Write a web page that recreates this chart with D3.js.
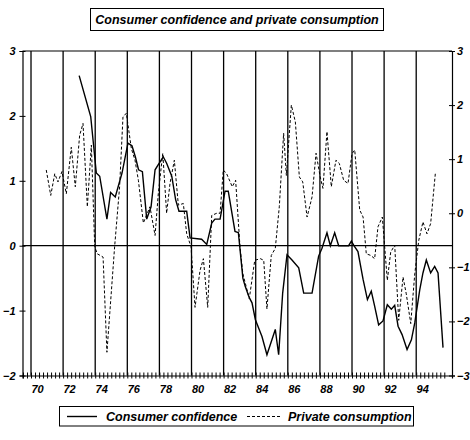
<!DOCTYPE html>
<html>
<head>
<meta charset="utf-8">
<script src="https://cdn.jsdelivr.net/npm/d3@7"></script>
<style>
  body { margin: 0; background: #fff; }
  text { font-family: "Liberation Sans", Arial, sans-serif; font-weight: bold; font-style: italic; fill: #000; }
</style>
</head>
<body>
<script>
// consumer confidence (left axis), dates in decimal years
var ccYears = [1973.0, 1973.72, 1974.07, 1974.28, 1974.73, 1974.96, 1975.25, 1975.67, 1976.04, 1976.29,
  1976.5, 1976.7, 1976.94, 1977.21, 1977.48, 1977.73, 1977.93, 1978.24, 1978.45, 1978.77,
  1979.01, 1979.22, 1979.7, 1979.91, 1980.63, 1980.95, 1981.26, 1981.46, 1981.78, 1982.09,
  1982.29, 1982.71, 1982.92, 1983.2, 1983.35, 1983.6, 1983.77, 1983.98, 1984.39, 1984.7,
  1985.22, 1985.43, 1985.68, 1985.95, 1986.26, 1986.68, 1986.99, 1987.51, 1987.92, 1988.13,
  1988.44, 1988.65, 1988.92, 1989.17, 1989.79, 1989.96, 1990.12, 1990.37, 1990.69, 1990.96,
  1991.2, 1991.41, 1991.66, 1991.93, 1992.2, 1992.45, 1992.66, 1992.87, 1993.12, 1993.43,
  1993.7, 1993.91, 1994.22, 1994.42, 1994.63, 1994.9, 1995.15, 1995.36, 1995.67];
var ccValues = [2.62, 1.99, 1.12, 1.07, 0.41, 0.82, 0.75, 1.12, 1.58, 1.54,
  1.37, 1.17, 1.14, 0.41, 0.60, 1.17, 1.25, 1.37, 1.27, 1.07,
  0.71, 0.53, 0.53, 0.12, 0.10, 0.02, 0.35, 0.41, 0.41, 0.84,
  0.84, 0.22, 0.20, -0.5, -0.63, -0.80, -0.88, -1.14, -1.40, -1.68,
  -1.29, -1.68, -0.73, -0.14, -0.22, -0.34, -0.73, -0.73, -0.16, -0.04,
  0.20, 0.0, 0.20, 0.0, 0.0, 0.07, 0.0, -0.09, -0.52, -0.83,
  -0.70, -0.93, -1.22, -1.16, -0.91, -0.98, -0.92, -1.24, -1.37, -1.60,
  -1.45, -1.19, -0.68, -0.42, -0.22, -0.42, -0.32, -0.42, -1.57];

// private consumption (right axis)
var pcYears = [1970.95, 1971.23, 1971.48, 1971.68, 1971.93, 1972.2, 1972.51, 1972.76, 1973.03, 1973.24,
  1973.51, 1973.76, 1973.97, 1974.13, 1974.49, 1974.73, 1975.21, 1975.52, 1975.73, 1975.94,
  1976.25, 1976.48, 1976.69, 1977.0, 1977.41, 1977.73, 1977.93, 1978.21, 1978.45, 1978.66,
  1978.93, 1979.18, 1979.49, 1979.7, 1979.97, 1980.22, 1980.53, 1980.74, 1981.01, 1981.26,
  1981.57, 1981.78, 1981.98, 1982.19, 1982.54, 1982.75, 1983.02, 1983.2, 1983.6, 1983.94,
  1984.29, 1984.5, 1984.7, 1984.97, 1985.22, 1985.47, 1985.74, 1985.91, 1986.22, 1986.47,
  1986.72, 1986.93, 1987.2, 1987.51, 1987.76, 1988.02, 1988.19, 1988.44, 1988.71, 1989.0,
  1989.21, 1989.48, 1989.75, 1990.0, 1990.17, 1990.48, 1990.69, 1990.89, 1991.17, 1991.41,
  1991.62, 1991.89, 1992.2, 1992.41, 1992.66, 1992.91, 1993.18, 1993.38, 1993.66, 1993.91,
  1994.16, 1994.42, 1994.67, 1994.9, 1995.19];
var pcValues = [0.80, 0.33, 0.73, 0.58, 0.77, 0.36, 1.22, 0.49, 1.44, 1.66,
  0.12, 1.26, -0.62, -0.75, -0.81, -2.57, -0.62, 0.49, 1.78, 1.85,
  1.20, 0.98, 0.61, -0.18, 0.12, -0.41, 0.36, 1.11, 0.0, 0.55,
  0.98, 0.15, 0.18, -0.38, -0.62, -1.74, -1.06, -0.84, -1.74, -0.04,
  0.0, 0.0, 0.80, 0.73, 0.49, 0.61, -0.62, -1.12, -1.58, -0.87,
  -0.84, -0.87, -1.77, -0.78, -0.65, 0.12, 1.48, 0.70, 2.00, 1.69,
  0.67, 0.58, -0.07, 0.30, 1.11, 0.67, 0.46, 1.51, 0.49, 0.98,
  0.92, 0.61, 0.55, 1.10, 1.17, 0.06, -0.07, -0.75, -0.78, -0.84,
  -0.25, -0.07, -1.24, -0.72, -0.59, -1.98, -1.18, -1.49, -2.04, -1.12,
  -0.50, -0.16, -0.38, -0.19, 0.73];

var yearLabels = ["70", "72", "74", "76", "78", "80", "82", "84", "86", "88", "90", "92", "94"];
var leftTicks = [-2, -1, 0, 1, 2, 3];
var rightTicks = [-3, -2, -1, 0, 1, 2, 3];

var W = 470, H = 440;
var pLeft = 22.5, pRight = 452, pTop = 51, pBottom = 375.5;

var svg = d3.select("body").append("svg")
    .attr("width", W)
    .attr("height", H);

var x = d3.scaleLinear().domain([1969.47, 1996.23]).range([pLeft, pRight]);
var yL = d3.scaleLinear().domain([-2, 3]).range([pBottom, pTop]);
var yR = d3.scaleLinear().domain([-3, 3]).range([pBottom, pTop]);

// title box
svg.append("rect").attr("x", 90.5).attr("y", 8.5).attr("width", 293).attr("height", 22)
    .attr("fill", "none").attr("stroke", "#000").attr("stroke-width", 1);
svg.append("text").attr("x", 237).attr("y", 24).attr("text-anchor", "middle")
    .style("font-size", "12.5px").text("Consumer confidence and private consumption");

// year grid lines
var years = yearLabels.map(function(s) { return 1900 + +s; });
svg.selectAll(".vline").data(years).enter().append("line")
    .attr("x1", function(d) { return x(d); }).attr("x2", function(d) { return x(d); })
    .attr("y1", pTop).attr("y2", pBottom)
    .attr("stroke", "#000").attr("stroke-width", 1.3);

// frame top + zero line
svg.append("line").attr("x1", pLeft).attr("x2", pRight).attr("y1", pTop).attr("y2", pTop)
    .attr("stroke", "#000").attr("stroke-width", 1.2);
svg.append("line").attr("x1", pLeft).attr("x2", pRight).attr("y1", yL(0)).attr("y2", yL(0))
    .attr("stroke", "#000").attr("stroke-width", 1.2);

// left axis
var gl = svg.append("g").attr("transform", "translate(" + pLeft + ",0)")
    .call(d3.axisLeft(yL).tickValues(leftTicks).tickSize(3).tickPadding(4).tickFormat(d3.format("d")));
gl.selectAll(".tick line").attr("x1", -3).attr("x2", 3);
gl.selectAll(".tick text").style("font-size", "11px");

// right axis
var gr = svg.append("g").attr("transform", "translate(" + pRight + ",0)")
    .call(d3.axisRight(yR).tickValues(rightTicks).tickSize(3).tickPadding(2).tickFormat(d3.format("d")));
gr.selectAll(".tick line").attr("x1", -3).attr("x2", 3);
gr.selectAll(".tick text").style("font-size", "11px");

// bottom axis with quarterly minor ticks
var quarters = d3.range(1969.5, 1995.8, 0.25);
var gb = svg.append("g").attr("transform", "translate(0," + pBottom + ")")
    .call(d3.axisBottom(x).tickValues(quarters).tickSize(3).tickFormat(""));
gb.selectAll(".tick line").attr("y1", -3).attr("y2", 3);

svg.selectAll(".ylab").data(years).enter().append("text")
    .attr("x", function(d) { return x(d) + 6.5; })
    .attr("y", 393)
    .attr("text-anchor", "middle")
    .style("font-size", "11px")
    .text(function(d, i) { return yearLabels[i]; });

svg.selectAll(".domain").attr("stroke", "#000").attr("stroke-width", 1.2);

// series
var ccData = ccYears.map(function(d, i) { return [d, ccValues[i]]; });
var pcData = pcYears.map(function(d, i) { return [d, pcValues[i]]; });

svg.append("path").datum(pcData)
    .attr("fill", "none").attr("stroke", "#000").attr("stroke-width", 1)
    .attr("stroke-dasharray", "3,2")
    .attr("d", d3.line().x(function(d) { return x(d[0]); }).y(function(d) { return yR(d[1]); }));

svg.append("path").datum(ccData)
    .attr("fill", "none").attr("stroke", "#000").attr("stroke-width", 1.4)
    .attr("d", d3.line().x(function(d) { return x(d[0]); }).y(function(d) { return yL(d[1]); }));

// legend
svg.append("rect").attr("x", 59.5).attr("y", 406.5).attr("width", 354).attr("height", 19.5)
    .attr("fill", "none").attr("stroke", "#000").attr("stroke-width", 1);
svg.append("line").attr("x1", 67).attr("x2", 97).attr("y1", 416.5).attr("y2", 416.5)
    .attr("stroke", "#000").attr("stroke-width", 1.4);
svg.append("text").attr("x", 106).attr("y", 421).style("font-size", "12.5px").text("Consumer confidence");
svg.append("line").attr("x1", 247).attr("x2", 280).attr("y1", 416.5).attr("y2", 416.5)
    .attr("stroke", "#000").attr("stroke-width", 1).attr("stroke-dasharray", "3,2");
svg.append("text").attr("x", 288).attr("y", 421).style("font-size", "12.5px").text("Private consumption");
</script>
</body>
</html>
